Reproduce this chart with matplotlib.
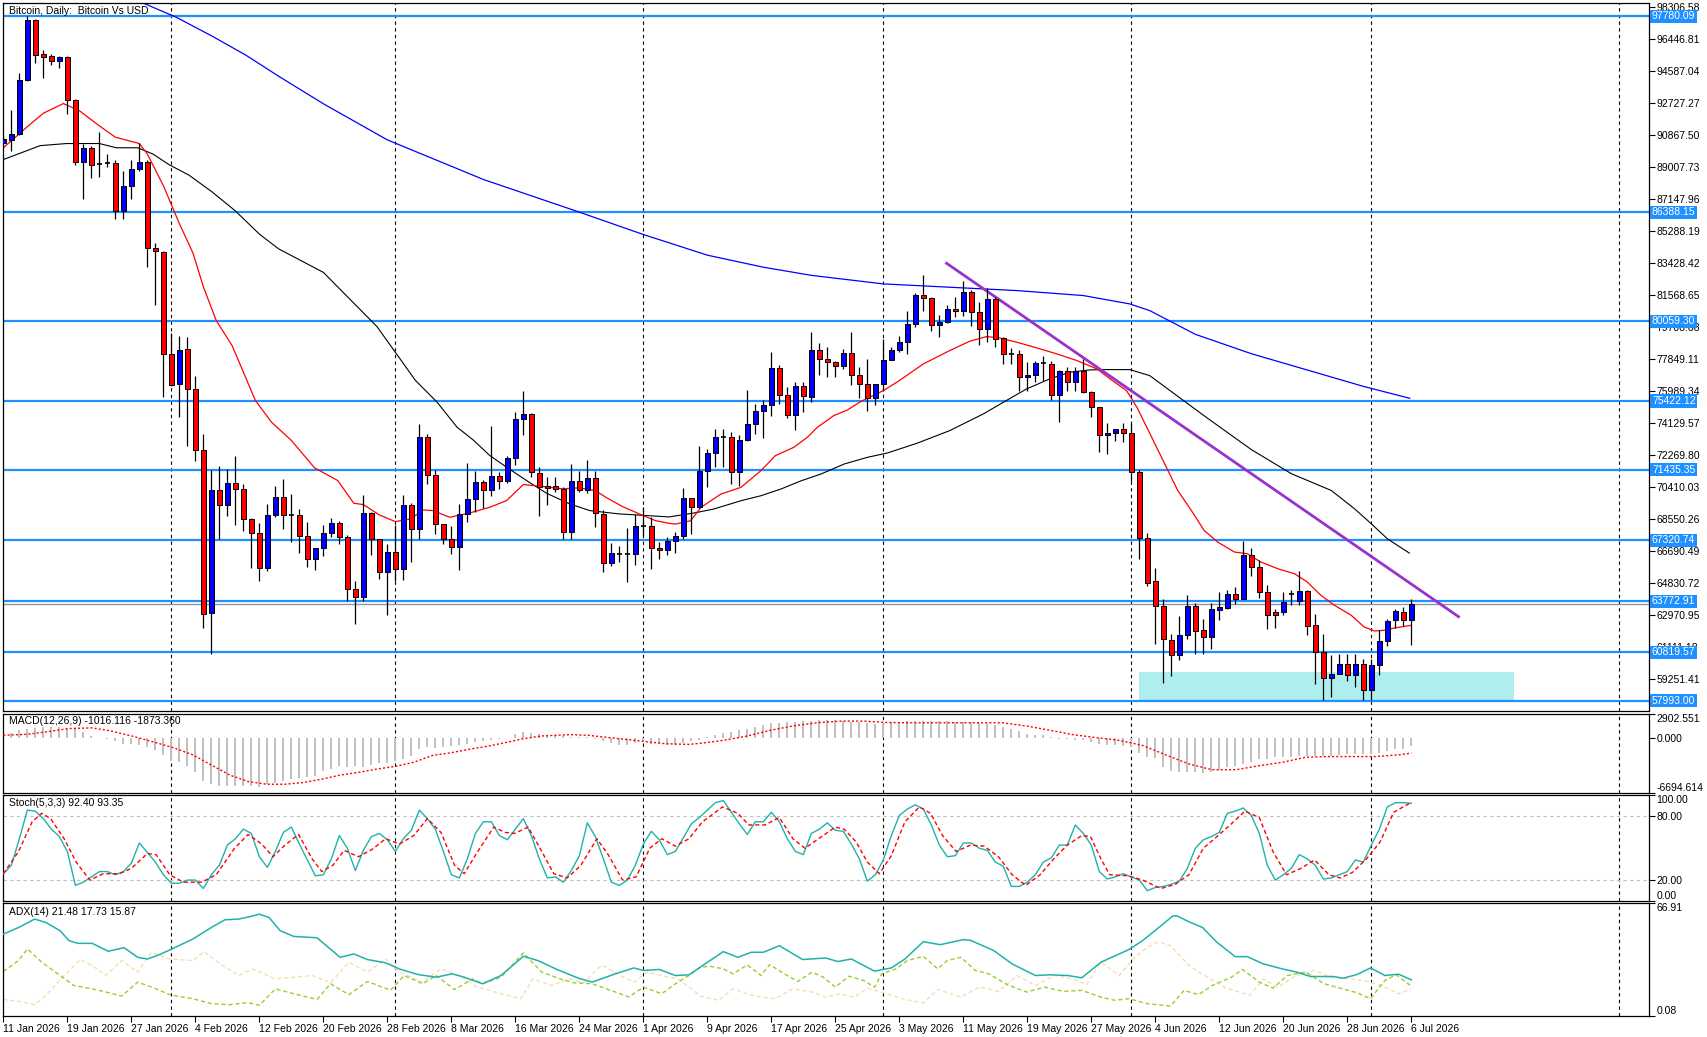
import matplotlib
matplotlib.use('Agg')
import matplotlib.pyplot as plt
from matplotlib.patches import Rectangle
import numpy as np
import pandas as pd

plt.rcParams['font.family'] = ['Liberation Sans', 'DejaVu Sans']

# ---- daily candles, 11 Jan 2026 .. 6 Jul 2026 ----
opens = [90400, 90580, 90930, 94060, 97540, 95580, 95460, 95210, 95410, 92930,
         89340, 90140, 89210, 89260, 89260, 86470, 87940, 88920, 89290, 84320,
         84100, 78150, 76440, 78440, 76140, 72570, 63100, 70240, 69390, 70680,
         70320, 68550, 67750, 65720, 68790, 69850, 68800, 68800, 67580, 66240,
         66880, 67750, 68340, 67540, 64490, 64050, 68920, 67400, 65460, 66650,
         65660, 69380, 67990, 73360, 71130, 68280, 67400, 66960, 68860, 69730,
         70740, 70240, 71090, 70800, 72120, 74390, 74680, 71230, 70510, 70510,
         70320, 67830, 70800, 70260, 70960, 68860, 65990, 66550, 66530, 66530,
         68160, 68160, 66880, 66760, 67260, 67590, 69780, 69240, 71370, 72400,
         73310, 73310, 71280, 73160, 74090, 74860, 75190, 77350, 75780, 74610,
         76300, 75680, 78390, 77870, 77710, 77440, 78220, 76960, 76410, 75580,
         76410, 77810, 78390, 78880, 79900, 81590, 81420, 79870, 80000, 80780,
         80660, 81780, 80580, 79610, 81360, 79070, 78160, 78160, 76800, 76940,
         77620, 77580, 75800, 77190, 76550, 77190, 75970, 75100, 73450, 73570,
         73800, 73570, 71320, 67460, 64940, 63510, 61550, 60680, 61840, 63490,
         62100, 61710, 63300, 63390, 64220, 63930, 66490, 65770, 64320, 63180,
         63160, 64200, 63780, 64360, 62390, 60840, 59330, 59580, 60160, 59520,
         60160, 58650, 60060, 61480, 62680, 63160, 62680]
highs = [90900, 92350, 94480, 97780, 97600, 95820, 95580, 95450, 95460, 92950,
         90390, 90270, 91070, 89780, 89410, 88800, 89410, 90440, 89410, 84590,
         84150, 79370, 79200, 79150, 76850, 73500, 71420, 71660, 71490, 72230,
         70610, 68600, 68360, 69410, 70510, 70900, 70030, 69150, 68390, 66900,
         68220, 68650, 68430, 67640, 64980, 69970, 69000, 67400, 67110, 68240,
         69970, 69480, 74060, 73520, 71420, 68300, 68180, 69440, 71810, 71350,
         70840, 73970, 71290, 72200, 74780, 75990, 74720, 71580, 71000, 71000,
         70410, 71770, 71380, 71970, 71380, 69090, 67170, 67020, 68040, 68860,
         69250, 68700, 67210, 67500, 67790, 70350, 69800, 72830, 72630, 73800,
         73800, 73600, 73450, 76070, 75250, 75480, 78300, 77520, 76260, 76550,
         76510, 79460, 78780, 78550, 77720, 78450, 79460, 77380, 77870, 76410,
         79030, 78590, 79230, 80680, 81690, 82770, 81450, 80450, 81030, 81490,
         82390, 81880, 81160, 81980, 81460, 79130, 78510, 78390, 77680, 77720,
         78040, 77730, 77200, 77390, 77390, 77870, 76030, 75100, 74130, 73820,
         74150, 74150, 71400, 67770, 65730, 63900, 61900, 62910, 64170, 63680,
         62770, 63680, 64320, 64420, 64610, 67280, 66900, 66160, 64710, 63350,
         64300, 64460, 65540, 64420, 63060, 61860, 60640, 60740, 60740, 60700,
         60450, 60450, 62100, 62770, 63350, 63450, 63900]
lows = [90100, 89970, 90870, 94000, 95040, 94180, 94970, 94790, 92100, 89120,
        87160, 88380, 88430, 89040, 86030, 85980, 87160, 88820, 83220, 81010,
        75650, 76300, 74480, 72810, 71960, 62240, 60700, 67380, 68730, 68240,
        67870, 65720, 64980, 65540, 68670, 67970, 67210, 66570, 65750, 65600,
        66390, 67500, 67110, 63810, 62450, 63810, 66470, 65070, 62980, 64980,
        65020, 66080, 67400, 70610, 67700, 67110, 66530, 65600, 68370, 68960,
        69190, 69930, 70320, 70650, 71680, 73420, 71000, 68760, 69380, 70120,
        67400, 67400, 70120, 70060, 68080, 65460, 65850, 66050, 64880, 65890,
        67600, 65660, 66240, 66500, 66570, 67400, 67690, 69200, 70400, 71570,
        71570, 70600, 70460, 73080, 73510, 73270, 74570, 75250, 74420, 73740,
        74770, 75350, 76940, 76840, 76840, 77290, 76380, 75580, 74860, 75210,
        76070, 77780, 78300, 78160, 79730, 80680, 79520, 79130, 79950, 80290,
        80350, 79810, 78680, 78840, 78550, 77580, 77580, 76030, 76030, 76510,
        76570, 75510, 74190, 76030, 76030, 75900, 74520, 72440, 72350, 73080,
        73060, 70800, 66260, 64670, 61320, 59040, 59430, 60350, 61610, 60700,
        60740, 60990, 62720, 63350, 63610, 63900, 65270, 63970, 62190, 62250,
        62970, 63550, 63550, 61810, 59000, 58030, 58230, 59560, 59150, 58810,
        58030, 58030, 59520, 61170, 62250, 62330, 61260]
closes = [90650, 90950, 94060, 97540, 95530, 95430, 95210, 95410, 92910, 89340,
          90140, 89160, 89210, 89260, 86470, 87940, 88920, 89290, 84320, 84150,
          78150, 76360, 78390, 76140, 72570, 63020, 70240, 69390, 70680, 70320,
          68550, 67750, 65720, 68800, 69850, 68800, 68800, 67580, 66240, 66880,
          67750, 68340, 67540, 64490, 64050, 68920, 67400, 65460, 66650, 65660,
          69380, 67990, 73360, 71130, 68280, 67400, 66960, 68860, 69730, 70740,
          70260, 71090, 70800, 72120, 74390, 74680, 71290, 70410, 70370, 70320,
          67830, 70800, 70260, 70960, 68900, 65990, 66590, 66550, 66530, 68180,
          68160, 66880, 66760, 67260, 67590, 69780, 69240, 71370, 72400, 73350,
          73310, 71280, 73180, 74090, 74860, 75190, 77350, 75780, 74610, 76300,
          75720, 78390, 77870, 77710, 77480, 78220, 76960, 76410, 75580, 76410,
          77810, 78390, 78880, 79900, 81590, 81420, 79870, 80000, 80780, 80660,
          81780, 80580, 79610, 81360, 79030, 78160, 78160, 76800, 76940, 77640,
          77620, 75800, 77190, 76550, 77190, 75970, 75060, 73450, 73570, 73800,
          73570, 71320, 67460, 64860, 63510, 61610, 60680, 61840, 63490, 62040,
          61710, 63320, 63450, 64220, 63930, 66490, 65770, 64320, 63010, 63010,
          63740, 64200, 64360, 62350, 60840, 59330, 59580, 60160, 59520, 60160,
          58650, 60060, 61480, 62640, 63200, 62680, 63640]

# ---- moving averages (day index, price) ----
ma_red_x = [0, 3, 5, 7.5, 9.5, 12, 14, 17, 18, 20, 22, 23.7, 25, 26.6, 28.6, 31.5, 33.5,
            36, 38.9, 41.8, 43.8, 45, 47, 49, 50.9, 52.5, 53.7, 55.8, 58.3, 60.8, 62.9,
            65, 67.5, 69.9, 71.9, 74, 75.3, 77.4, 79.5, 81.5, 83.2, 84, 85.9, 87.2, 89.7,
            92.2, 94.7, 96.5, 98.8, 100.5, 101.75, 103.8, 105.5, 107.2, 110, 112, 115,
            118.3, 120.8, 122.9, 124.5, 126.7, 129.2, 131.7, 134.2, 136.7, 138.75, 140.4,
            141.7, 143.3, 146.8, 148.5, 150.1, 151.8, 153.9, 155.5, 157.2, 159.3, 161.4,
            163, 164.7, 166.4, 168.5, 170.1, 171.4, 172.6, 173.9, 176]
ma_red_y = [90143, 91367, 92150, 92713, 92297, 91416, 90755, 90388, 89776, 87940, 85737,
            84024, 82066, 80108, 78639, 75457, 74200, 73131, 71539, 70801, 69481, 69403,
            68801, 68413, 68569, 69093, 69054, 68666, 68918, 69248, 69636, 70568, 70452,
            70316, 70374, 70219, 69830, 69287, 68860, 68472, 68316, 68270, 68464, 69240,
            70016, 70404, 71373, 72246, 72730, 73312, 73894, 74572, 74900, 75400, 76028,
            76610, 77579, 78354, 78897, 79168, 79090, 78839, 78509, 78160, 77772, 77288,
            76571, 76028, 75059, 73548, 70223, 69062, 67901, 67224, 66643, 66547, 66063,
            65676, 65385, 64902, 64128, 63547, 62966, 62289, 62057, 62096, 62231, 62386]
ma_black_x = [0, 4.6, 7.9, 12, 14.1, 16.8, 18.7, 20.7, 23.2, 26.1, 29, 32, 34.4, 40, 46.7,
              51.5, 54.2, 56.7, 58.8, 60.8, 62.9, 65.4, 67.9, 70.8, 73.3, 77, 79.9, 83.2,
              86.3, 88.8, 92.2, 94.7, 97.2, 99.75, 102.2, 105.1, 108, 110.5, 114.2, 118.3,
              122.5, 125, 127.9, 130.8, 133.3, 135.8, 137.5, 140.8, 143.3, 150, 156, 161,
              166, 168.9, 171, 173, 175.75]
ma_black_y = [89458, 90266, 90388, 90388, 90143, 90143, 89776, 89164, 88552, 87573, 86472,
              85125, 84269, 82900, 79750, 76626, 75364, 73908, 73131, 72257, 71578, 70801,
              70064, 69442, 69054, 68860, 68782, 68685, 68911, 69144, 69628, 69919, 70307,
              70791, 71179, 71761, 72149, 72401, 72966, 73703, 74672, 75350, 76125, 76707,
              77094, 77230, 77249, 77249, 76900, 74600, 72600, 71200, 70223, 69159, 68288,
              67417, 66585]
ma_blue_x = [17.3, 21.6, 26.1, 30.3, 34.4, 40, 48, 60, 72, 80, 88, 95, 101, 105.8, 110,
             118.3, 126.7, 135, 140.8, 143.3, 149, 156, 163, 170, 175.8]
ma_blue_y = [98588, 97731, 96630, 95528, 94304, 92700, 90600, 88300, 86400, 85100, 83900,
             83200, 82727, 82462, 82230, 82036, 81842, 81552, 81067, 80679, 79300, 78173,
             77224, 76275, 75582]

# ---- drawn objects ----
levels = [97780.09, 86388.15, 80059.30, 75422.12, 71435.35, 67320.74, 63772.91,
          60819.57, 57993.00]
trend_x = [117.9, 181.9]
trend_y = [83430, 62889]
zone_x = [141.9, 188.8]
zone_y = [57993, 59660]

price_ticks = [98306.58, 96446.81, 94587.04, 92727.27, 90867.50, 89007.73, 87147.96,
               85288.19, 83428.42, 81568.65, 79708.88, 77849.11, 75989.34, 74129.57,
               72269.80, 70410.03, 68550.26, 66690.49, 64830.72, 62970.95, 61111.18,
               59251.41]

# ---- MACD(12,26,9) ----
macd_main = [286, 612, 898, 1102, 1225, 1266, 1266, 1307, 1225, 1102,
             694, 204, -41, -204, -449, -735, -817, -939, -1143, -1552,
             -2082, -2776, -2899, -3389, -4205, -5226, -5635, -5839, -5839, -5839,
             -5839, -5839, -5920, -5635, -5512, -5226, -5022, -4900, -4818, -4614,
             -4001, -3797, -3471, -3593, -3471, -3593, -3307, -3103, -3062, -2776,
             -2572, -2164, -1347, -1143, -1266, -1102, -1062, -857, -735, -531,
             -449, -327, -122, -41, 490, 694, 612, 490, 367, 286,
             204, 82, 41, 41, -122, -367, -612, -939, -857, -694,
             -531, -735, -817, -939, -857, -612, -449, -327, 41, 367,
             531, 694, 898, 1102, 1307, 1511, 1715, 1797, 1837, 1919,
             2001, 2042, 2123, 2123, 2123, 2042, 1919, 1837, 1715, 1633,
             1633, 1837, 1919, 2001, 2042, 2042, 2001, 2042, 1960, 1919,
             1919, 1837, 1715, 1633, 1511, 1307, 1021, 776, 490, 367,
             286, 41, -122, -204, -245, -327, -531, -735, -939, -939,
             -1062, -1143, -1837, -2368, -2491, -3593, -4001, -4124, -4205, -4205,
             -4287, -4205, -3879, -3593, -3389, -3185, -2899, -2572, -2572, -2368,
             -2368, -2286, -2164, -2164, -2164, -2164, -2164, -2082, -1960, -1960,
             -1960, -1960, -1837, -1674, -1429, -1347, -1016]
macd_sig_x = [0, 3, 5.3, 8.2, 11.1, 13.4, 16.2, 19.1, 21.4, 23.7, 26, 28.3, 30.6, 32.9,
              35.2, 37.5, 39.8, 42.1, 44.4, 46.7, 49, 51.3, 53.6, 55.9, 58.1, 60.4, 62.7,
              65, 67.3, 70.8, 73.1, 75.4, 77.7, 80, 82.8, 85.7, 87.4, 90, 93, 95.9, 98.8,
              101.7, 104.6, 107.5, 110.4, 113.3, 119.1, 124.9, 127.8, 130.8, 133.7, 136.6,
              139.5, 142.4, 145.3, 148.2, 151.1, 154.1, 157, 159.9, 162.8, 165.7, 171.5,
              174.4, 176]
macd_sig_y = [286, 408, 694, 1102, 1184, 817, 163, -612, -1266, -2082, -3307, -4532,
              -5308, -5635, -5635, -5430, -5022, -4532, -4205, -3797, -3471, -2981, -2164,
              -1837, -1429, -1062, -612, -122, 204, 367, 286, 41, -204, -449, -735, -817,
              -653, -327, 204, 898, 1429, 1797, 2001, 2001, 1837, 1797, 1797, 1797, 1429,
              898, 367, 0, -327, -939, -2082, -3185, -3879, -3879, -3389, -2981, -2368,
              -2286, -2286, -2082, -1873]

# ---- Stochastic(5,3,3) ----
stoch_k = [26, 34, 59, 86, 85, 78, 68, 61, 47, 15, 18, 23, 28, 28, 25, 28, 36, 55, 46, 37,
           25, 17, 17, 20, 20, 12, 25, 34, 53, 59, 68, 64, 42, 32, 47, 65, 70, 54, 39, 24,
           25, 40, 62, 50, 29, 48, 61, 64, 58, 47, 59, 67, 86, 78, 68, 47, 25, 22, 40, 64,
           75, 75, 62, 58, 68, 78, 62, 40, 22, 23, 18, 29, 43, 74, 61, 40, 18, 15, 20, 34,
           54, 66, 58, 44, 47, 60, 73, 79, 86, 93, 95, 84, 73, 63, 75, 75, 84, 75, 59, 47,
           44, 64, 68, 74, 67, 66, 54, 40, 19, 25, 39, 62, 81, 87, 91, 87, 72, 53, 42, 43,
           55, 55, 50, 48, 37, 33, 14, 14, 18, 25, 37, 41, 53, 53, 72, 64, 53, 28, 21, 23,
           26, 23, 20, 10, 13, 14, 16, 19, 31, 50, 58, 61, 65, 83, 85, 88, 81, 64, 34, 20,
           25, 31, 44, 40, 34, 21, 22, 25, 28, 39, 37, 53, 68, 89, 93, 93, 92.4]
stoch_d_x = [0, 1.9, 3.6, 4.8, 5.9, 7.6, 9.1, 10.8, 12.5, 14.5, 16, 18, 19.1, 20.8, 22.5,
             24.8, 26.6, 28.9, 30.6, 32.3, 33.7, 35.2, 36.9, 38.6, 39.8, 41.2, 42.6, 44.4,
             46.1, 47.8, 49.5, 51.3, 53, 54.7, 56.4, 57.6, 59.3, 61.3, 62.7, 63.9, 65.6,
             67.3, 68.8, 70.5, 72.2, 74.2, 75.6, 77.4, 79.1, 80.8, 82.3, 84, 85.7, 87.4,
             89.9, 91.8, 93.2, 95.2, 97, 98.7, 100.2, 101.9, 104, 105.1, 106.6, 108, 109.5,
             111, 112.7, 114.5, 115.9, 117.4, 119.1, 120.9, 122.6, 124.4, 126.1, 127.8,
             129.6, 131.3, 133, 134.8, 135.9, 137.2, 138.3, 140.6, 142.4, 144.7, 146.5,
             148.2, 150, 151.7, 153.5, 155.2, 157, 158.7, 160.4, 162.2, 163.9, 165.7,
             167.1, 168.6, 170.4, 172.1, 173.8, 176]
stoch_d_y = [26, 47, 75, 83, 78, 59, 37, 20, 26, 26, 31, 45, 44, 25, 18, 18, 25, 50, 63, 54,
             42, 53, 63, 40, 28, 34, 48, 42, 49, 59, 54, 62, 78, 65, 34, 26, 47, 70, 65, 64,
             70, 47, 26, 22, 34, 59, 44, 20, 23, 50, 59, 52, 59, 75, 89, 83, 72, 72, 79, 59,
             50, 59, 70, 68, 56, 37, 26, 43, 75, 89, 83, 62, 47, 53, 52, 42, 25, 15, 25, 40,
             53, 62, 61, 40, 25, 24, 20, 12, 16, 25, 50, 61, 73, 85, 79, 47, 25, 31, 39, 25,
             22, 27, 40, 56, 84, 93.35]

# ---- ADX(14) ----
adx_x = [0, 1.9, 3.9, 5.3, 7.1, 8.2, 9.3, 11.1, 13.1, 15.1, 16.8, 18, 19.4, 21.1, 23.7, 26,
         27.7, 29.4, 30.9, 32, 33.2, 34.6, 36.3, 39.2, 42.1, 43.8, 45.5, 47.8, 49.5, 51.8,
         54.1, 56.1, 57.6, 59.9, 62.2, 65, 66.8, 69.3, 71.9, 73.6, 76.5, 78.8, 80, 82,
         84, 85.7, 87.1, 90, 91.8, 93.5, 95, 97, 99.9, 102.8, 104.3, 106, 108.9, 111,
         112.7, 115, 117.1, 120, 120.9, 123.8, 126.1, 129, 130.8, 133.1, 134.8, 137.2,
         140.7, 142.4, 144.7, 146.2, 146.7, 148.2, 149.9, 151.7, 154, 155.5, 157.5,
         159.9, 161.7, 163.4, 166.3, 167.5, 169.2, 170.9, 172.7, 174.4, 176]
adx_y = [48.6, 52.5, 57.5, 55.5, 50.6, 44.7, 43.1, 43.1, 38.4, 40.5, 34.8, 33.8, 36.2,
         39.8, 45.7, 52.5, 57.1, 57.5, 59.0, 60.4, 58.5, 50.6, 47.2, 46.4, 34.8, 36.8, 33.5,
         31.5, 27.9, 24.6, 23.0, 25.0, 23.0, 19.1, 24.0, 35.4, 32.9, 27.4, 22.4, 20.1, 25.0,
         28.5, 27.0, 27.6, 24.0, 24.4, 28.9, 38.2, 34.8, 37.8, 37.8, 41.7, 33.5, 34.4, 32.3,
         33.8, 26.6, 28.5, 33.8, 44.1, 42.3, 45.3, 44.9, 38.8, 30.9, 24.0, 24.4, 24.0, 22.6,
         31.9, 39.4, 44.7, 53.5, 59.4, 59.4, 55.9, 52.5, 43.7, 35.2, 35.2, 30.9, 27.9, 26.0,
         23.4, 23.4, 22.4, 24.6, 28.5, 24.0, 24.8, 21.48]
pdi_x = [0, 1.9, 3, 4.8, 7.1, 8.8, 11.1, 12.8, 14.8, 16.8, 19.1, 20.8, 23.7, 26, 28.3, 30.6,
         32, 34, 36.3, 39.2, 40.9, 43.2, 45.5, 48.4, 50.1, 52.4, 54.1, 56.4, 58.7, 59.9,
         62.2, 65, 67.3, 69.6, 71.3, 73.6, 76.5, 78.2, 80, 82.3, 84, 85.7, 87.1, 88.3, 90,
         91.2, 93, 94.7, 95.8, 97.6, 99.3, 101.1, 102.5, 104, 105.7, 107.5, 108.9, 109.8,
         111.6, 113, 115, 116.8, 118, 119.7, 121.5, 123.2, 125.5, 127.9, 130.2, 132.5,
         134.8, 137.2, 138.9, 140.7, 143, 145.9, 147.6, 149.4, 151.1, 153.5, 154.9, 157,
         158.7, 160.5, 162.8, 165.1, 167.4, 169.2, 170.9, 172.7, 174.1, 176]
pdi_y = [26.4, 32.9, 39.8, 31.9, 24.0, 18.1, 16.1, 14.2, 11.8, 20.1, 16.1, 12.6, 10.2, 7.3,
         6.7, 7.9, 6.3, 16.1, 13.2, 9.8, 19.1, 12.6, 20.5, 15.2, 24.0, 19.1, 24.0, 15.7, 22.0,
         19.1, 23.0, 37.4, 26.0, 22.0, 19.7, 19.1, 14.2, 11.2, 17.1, 13.2, 19.1, 24.0, 28.9,
         29.5, 28.0, 25.0, 30.3, 24.0, 30.5, 25.0, 20.5, 26.0, 23.0, 17.1, 23.6, 21.1, 17.1,
         25.0, 28.0, 32.9, 35.4, 28.0, 32.9, 34.8, 27.0, 25.0, 18.5, 14.2, 17.1, 14.6, 15.2,
         11.2, 9.3, 10.2, 7.3, 5.9, 15.2, 12.6, 18.1, 23.0, 27.6, 20.1, 16.5, 24.0, 26.0,
         19.1, 16.1, 13.8, 10.2, 21.1, 24.4, 17.73]
mdi_x = [0, 1.9, 3.9, 5.3, 7.6, 9.6, 11.1, 12.8, 14.8, 16.8, 18.5, 20.8, 23.7, 25.1, 27.1,
         29.4, 31.2, 34, 36.3, 38.6, 40.9, 43.2, 45.5, 47.8, 49.5, 52.4, 54.7, 57, 59.3,
         62.2, 64.7, 66.2, 68.5, 70.8, 72.5, 74.8, 77.1, 78.8, 80.5, 82.3, 84.3, 86.8,
         87.1, 89.4, 91.2, 93.6, 96.4, 98.7, 101.1, 102.8, 104.6, 106.3, 108.1, 110.4,
         112.7, 115, 116.8, 119.7, 122, 124.4, 126.7, 129, 131.4, 133.7, 135.4, 137.2,
         139.5, 141.2, 143, 144.4, 145.9, 148.2, 150.5, 152.9, 155.8, 157.5, 159.3,
         161.6, 163.9, 166.3, 168.6, 170.9, 172.7, 174.4, 176]
mdi_y = [9.8, 8.7, 6.7, 12.2, 24.0, 33.5, 29.9, 24.0, 32.9, 26.0, 37.8, 33.8, 32.9, 38.2,
         30.9, 24.0, 27.9, 22.0, 23.0, 24.0, 19.7, 31.9, 26.0, 33.8, 26.0, 20.1, 27.9, 24.0,
         17.1, 13.2, 10.2, 22.0, 18.1, 22.0, 19.7, 30.3, 24.0, 20.1, 26.0, 24.0, 22.0, 13.2,
         11.8, 9.3, 16.1, 12.2, 10.2, 16.1, 14.2, 11.2, 13.2, 11.2, 16.5, 13.2, 9.8, 7.7,
         15.7, 11.2, 17.1, 14.6, 24.0, 18.1, 24.0, 22.0, 18.5, 31.9, 24.0, 33.8, 40.7, 44.1,
         41.7, 29.9, 23.0, 16.5, 12.2, 22.0, 17.1, 24.0, 27.0, 22.4, 22.0, 20.1, 17.1, 13.2,
         15.87]

# ---------------------------------------------------------------------------
o = np.array(opens, float)
h = np.array(highs, float)
l = np.array(lows, float)
c = np.array(closes, float)
x = np.arange(len(c))
days = pd.date_range('2026-01-11', periods=len(c), freq='D')
month_pos = [(d - days[0]).days for d in pd.date_range('2026-02-01', '2026-08-01', freq='MS')]

fs = 7.5
fig = plt.figure(figsize=(17.07, 10.37), dpi=100)
L, W = 0.0016, 0.9646
ax = fig.add_axes([L, 0.3144, W, 0.6830])
ax_m = fig.add_axes([L, 0.2353, W, 0.0765], sharex=ax)
ax_s = fig.add_axes([L, 0.1309, W, 0.1022], sharex=ax)
ax_a = fig.add_axes([L, 0.0203, W, 0.1087], sharex=ax)
panels = [ax, ax_m, ax_s, ax_a]

for a in panels:
    a.set_facecolor('white')
    for sp in a.spines.values():
        sp.set_linewidth(0.9)
        sp.set_color('black')
    a.yaxis.tick_right()
    a.tick_params(axis='y', direction='out', length=4, width=0.8, pad=1,
                  labelsize=fs, colors='black')
    a.tick_params(axis='x', bottom=False, labelbottom=False)
    for m in month_pos:
        a.axvline(m, color='black', lw=0.8, ls=(0, (3, 3)), zorder=1)
ax.set_xlim(-0.08, 205.75)

# ---- main price panel ----
ax.set_ylim(57408, 98574)
ax.set_yticks(price_ticks)
ax.set_yticklabels([f'{v:.2f}' for v in price_ticks])

ax.add_patch(Rectangle((zone_x[0], zone_y[0]), zone_x[1] - zone_x[0], zone_y[1] - zone_y[0],
                       facecolor='#AFEEEE', edgecolor='none', zorder=1.5))
for lv in levels:
    ax.axhline(lv, color='#1E90FF', lw=1.6, zorder=2)
    ax.text(1.0016, lv, f'{lv:.2f}', transform=ax.get_yaxis_transform(), ha='left',
            va='center', fontsize=fs, color='white', zorder=10, clip_on=False,
            bbox=dict(boxstyle='square,pad=0.15', fc='#1E90FF', ec='none'))
ax.axhline(c[-1], color='#8A98A8', lw=1.0, zorder=2)

ax.plot(ma_blue_x, ma_blue_y, color='#0000FF', lw=0.9, zorder=2.5)
ax.plot(ma_black_x, ma_black_y, color='black', lw=0.8, zorder=2.5)
ax.plot(ma_red_x, ma_red_y, color='red', lw=0.9, zorder=2.5)
ax.plot(trend_x, trend_y, color='#9932CC', lw=2.0, zorder=2.6)

up = c >= o
doji = np.abs(c - o) < 1
body_lo = np.minimum(o, c)
body_h = np.abs(c - o)
ax.vlines(x, l, h, color='black', lw=0.9, zorder=3)
col = np.where(up, '#0000FF', '#FF0000')
ax.bar(x[~doji], body_h[~doji], bottom=body_lo[~doji], width=0.64, color=col[~doji],
       edgecolor='black', linewidth=0.7, zorder=4)
ax.hlines(c[doji], x[doji] - 0.32, x[doji] + 0.32, color='black', lw=1.2, zorder=4)

ax.text(0.004, 0.996, 'Bitcoin, Daily:  Bitcoin Vs USD', transform=ax.transAxes,
        ha='left', va='top', fontsize=fs)

# ---- MACD ----
ax_m.set_ylim(-6694.614, 2902.551)
ax_m.bar(x, macd_main, width=0.22, color='#C0C0C0', zorder=2)
ax_m.plot(macd_sig_x, macd_sig_y, color='red', lw=1.0, ls=(0, (1.5, 1.5)), zorder=3)
ax_m.set_yticks([2902.551, 0.0, -6694.614])
ax_m.set_yticklabels(['2902.551', '0.000', '-6694.614'])
ax_m.text(0.004, 0.97, 'MACD(12,26,9) -1016.116 -1873.360', transform=ax_m.transAxes,
          ha='left', va='top', fontsize=fs)

# ---- Stochastic ----
ax_s.set_ylim(0, 100)
for lv in (80, 20):
    ax_s.axhline(lv, color='#C0C0C0', lw=0.8, ls=(0, (3, 3)), zorder=1)
ax_s.plot(x, stoch_k, color='#20B2AA', lw=1.0, zorder=3)
ax_s.plot(stoch_d_x, stoch_d_y, color='red', lw=1.0, ls=(0, (3, 2)), zorder=3)
ax_s.set_yticks([100, 80, 20, 0])
ax_s.set_yticklabels(['100.00', '80.00', '20.00', '0.00'])
ax_s.text(0.004, 0.97, 'Stoch(5,3,3) 92.40 93.35', transform=ax_s.transAxes,
          ha='left', va='top', fontsize=fs)

# ---- ADX ----
ax_a.set_ylim(0, 66.91)
ax_a.plot(mdi_x, mdi_y, color='#F5DEB3', lw=1.0, ls=(0, (3, 2)), zorder=2)
ax_a.plot(pdi_x, pdi_y, color='#9ACD32', lw=1.0, ls=(0, (3, 2)), zorder=2.5)
ax_a.plot(adx_x, adx_y, color='#20B2AA', lw=1.1, zorder=3)
ax_a.set_yticks([66.91, 0])
ax_a.set_yticklabels(['66.91', '0.08'])
ax_a.text(0.004, 0.97, 'ADX(14) 21.48 17.73 15.87', transform=ax_a.transAxes,
          ha='left', va='top', fontsize=fs)

for a in (ax_m, ax_s, ax_a):
    labs = a.get_yticklabels()
    labs[0].set_va('top')
    labs[-1].set_va('bottom')

tick_x = x[::8]
tick_lab = [f'{d.day} {d.strftime("%b %Y")}' for d in days[::8]]
ax_a.set_xticks(tick_x)
ax_a.set_xticklabels(tick_lab, ha='left')
ax_a.tick_params(axis='x', bottom=True, labelbottom=True, direction='out', length=4,
                 width=0.8, pad=2, labelsize=fs)

fig.savefig('out.png', dpi=100)
